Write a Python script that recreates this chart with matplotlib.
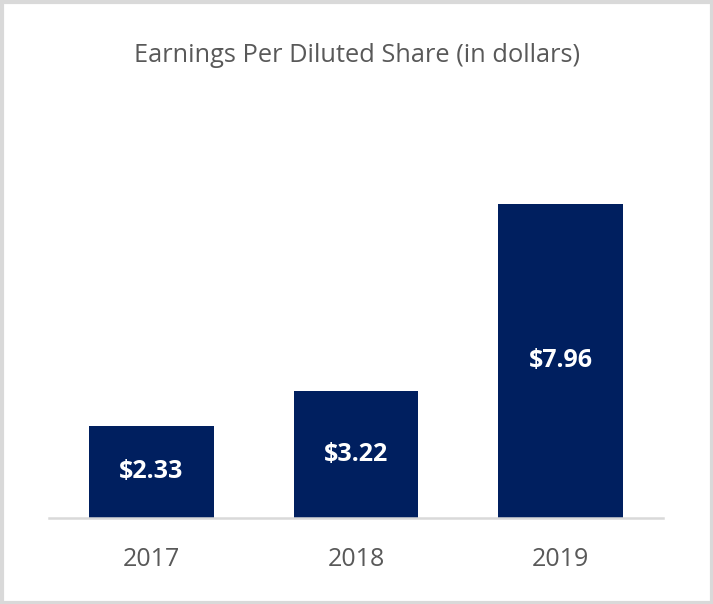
import matplotlib
matplotlib.use("Agg")
import matplotlib.pyplot as plt
from matplotlib.patches import Rectangle

years = ["2017", "2018", "2019"]
eps = [2.33, 3.22, 7.96]
labels = ["$2.33", "$3.22", "$7.96"]

W, H = 713, 604
fig = plt.figure(figsize=(W / 100, H / 100), dpi=100)
fig.patch.set_facecolor("white")

# axes placement in pixels
left, right, bottom, top = 49, 663, 604 - 518, 604 - 162.5
ax = fig.add_axes([left / W, bottom / H, (right - left) / W, (top - bottom) / H])
x = list(range(len(years)))
ax.bar(x, eps, width=0.61, color="#001F5F", zorder=2)
ax.set_xlim(-0.5, 2.5)
ax.set_ylim(0, 9)
ax.set_yticks([])
for s in ["top", "left", "right"]:
    ax.spines[s].set_visible(False)
ax.spines["bottom"].set_color("#D9D9D9")
ax.spines["bottom"].set_linewidth(1.8)
ax.set_xticks(x)
ax.set_xticklabels(years, fontsize=18, color="#595959", family="Open Sans")
ax.tick_params(axis="x", length=0, pad=21)

for xi, v, lab in zip(x, eps, labels):
    ax.text(xi, v / 2, lab, ha="center", va="center", color="white",
            fontsize=18, fontweight="bold", family="Open Sans")

fig.text(0.5, 1 - 56 / H, "Earnings Per Diluted Share (in dollars)", ha="center",
         va="center", fontsize=18.3, color="#595959", family="Open Sans")

fig.patches.append(Rectangle((1.5 / W, 1.5 / H), 1 - 3 / W, 1 - 3 / H,
                             transform=fig.transFigure, fill=False,
                             edgecolor="#D9D9D9", linewidth=3))

fig.savefig("out.png", dpi=100)
